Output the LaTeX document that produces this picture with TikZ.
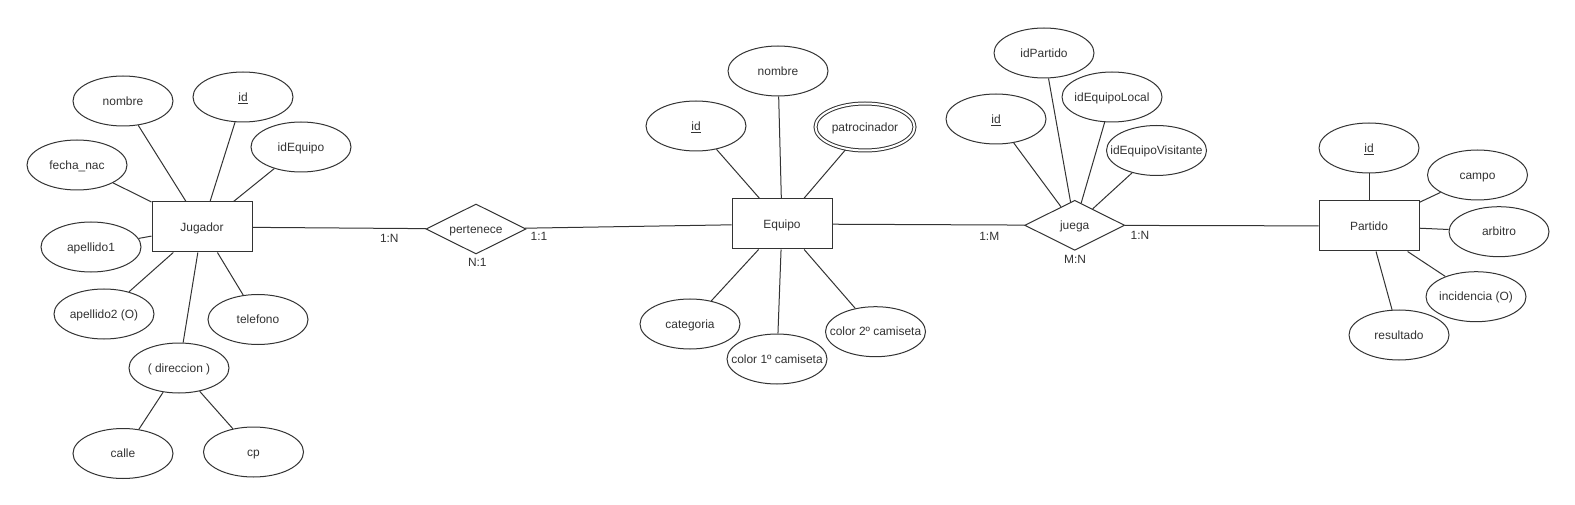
\documentclass[tikz,border=0pt]{standalone}
\usepackage{fontspec}
\setmainfont{Liberation Sans}
\usetikzlibrary{shapes.geometric,backgrounds}
\definecolor{ln}{HTML}{333333}
\begin{document}
\begin{tikzpicture}[x=1bp,y=-1bp,
  attr/.style={ellipse,draw=ln,line width=1bp,minimum width=100bp,minimum height=50bp,inner sep=0pt,fill=white},
  dattr/.style={ellipse,draw=ln,line width=1bp,double=white,double distance=2bp,minimum width=99bp,minimum height=47bp,inner sep=0pt},
  ent/.style={rectangle,draw=ln,line width=1bp,minimum width=100bp,minimum height=50bp,inner sep=0pt,fill=white},
  rel/.style={diamond,draw=ln,line width=1bp,minimum width=100bp,minimum height=50bp,inner sep=0pt,fill=white},
  txt/.style={text=ln,font=\fontsize{12}{14}\selectfont,inner sep=0pt,text height=8.5bp,text depth=0pt},
  conn/.style={draw=ln,line width=1bp},
]
\useasboundingbox (0,0) rectangle (1575,505);
\begin{pgfonlayer}{background}
\fill[white] (0,0) rectangle (1575,505);
\end{pgfonlayer}

% ---------- Jugador ----------
\node[ent,label={[txt]center:Jugador}] (jug) at (202,227) {};
\node[attr,label={[txt]center:nombre}] (jnom) at (123,101) {};
\node[attr,label={[txt]center:\underline{id}}] (jid) at (243,97) {};
\node[attr,label={[txt]center:idEquipo}] (jideq) at (301,147) {};
\node[attr,label={[txt]center:fecha\_nac}] (jfec) at (77,165) {};
\node[attr,label={[txt]center:apellido1}] (jap1) at (91,247) {};
\node[attr,label={[txt]center:apellido2 (O)}] (jap2) at (104,314) {};
\node[attr,label={[txt]center:telefono}] (jtel) at (258,319.5) {};
\node[attr,label={[txt]center:( direccion )}] (jdir) at (179,368) {};
\node[attr,label={[txt]center:calle}] (jcal) at (123,453.5) {};
\node[attr,label={[txt]center:cp}] (jcp) at (253.5,452) {};

% ---------- pertenece ----------
\node[rel,label={[txt]center:pertenece}] (pert) at (476,229) {};

% ---------- Equipo ----------
\node[ent,label={[txt]center:Equipo}] (equ) at (782,224) {};
\node[attr,label={[txt]center:nombre}] (enom) at (778,71) {};
\node[attr,label={[txt]center:\underline{id}}] (eid) at (696,126) {};
\node[dattr,label={[txt]center:patrocinador}] (epat) at (865,127) {};
\node[attr,label={[txt]center:categoria}] (ecat) at (690,324) {};
\node[attr,label={[txt]center:color 1º camiseta}] (ec1) at (777,359) {};
\node[attr,label={[txt]center:color 2º camiseta}] (ec2) at (875.5,331.7) {};

% ---------- juega ----------
\node[rel,label={[txt]center:juega}] (jue) at (1074.7,225.3) {};
\node[attr,label={[txt]center:\underline{id}}] (gid) at (996,119) {};
\node[attr,label={[txt]center:idPartido}] (gpar) at (1044,53) {};
\node[attr,label={[txt]center:idEquipoLocal}] (gloc) at (1112,97) {};
\node[attr,label={[txt]center:idEquipoVisitante}] (gvis) at (1156.5,150.5) {};

% ---------- Partido ----------
\node[ent,label={[txt]center:Partido}] (par) at (1369,226) {};
\node[attr,label={[txt]center:\underline{id}}] (pid) at (1369,148) {};
\node[attr,label={[txt]center:campo}] (pcam) at (1477.5,175) {};
\node[attr,label={[txt]center:arbitro}] (parb) at (1499,231.7) {};
\node[attr,label={[txt]center:incidencia (O)}] (pinc) at (1476,296.7) {};
\node[attr,label={[txt]center:resultado}] (pres) at (1399,335) {};

% ---------- cardinality labels ----------
\node[txt] (c1) at (389.3,238.3) {1:N};
\node[txt] (c2) at (539,236.7) {1:1};
\node[txt] (c3) at (477.3,262.7) {N:1};
\node[txt] (c4) at (989.3,236) {1:M};
\node[txt] (c5) at (1140,235) {1:N};
\node[txt] (c6) at (1075,259) {M:N};

% ---------- connectors ----------
\begin{pgfonlayer}{background}
\foreach \a in {jnom,jid,jideq,jfec,jap1,jap2,jtel,jdir} \draw[conn] (\a) -- (jug);
\draw[conn] (jcal) -- (jdir);
\draw[conn] (jcp) -- (jdir);
\draw[conn] (jug) -- (pert);
\draw[conn] (pert) -- (equ);
\foreach \a in {enom,eid,epat,ecat,ec1,ec2} \draw[conn] (\a) -- (equ);
\draw[conn] (equ) -- (jue);
\foreach \a in {gid,gpar,gloc,gvis} \draw[conn] (\a) -- (jue);
\draw[conn] (jue) -- (par);
\foreach \a in {pid,pcam,parb,pinc,pres} \draw[conn] (\a) -- (par);
\end{pgfonlayer}
\end{tikzpicture}
\end{document}
